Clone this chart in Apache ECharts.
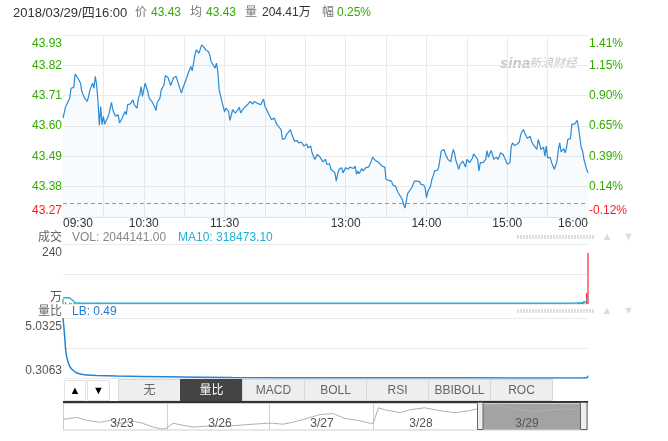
<!DOCTYPE html>
<html><head><meta charset="utf-8">
<script src="https://cdn.jsdelivr.net/npm/echarts/dist/echarts.min.js"></script>
<style>html,body{margin:0;padding:0;background:#fff;}#c{width:668px;height:441px;}</style>
</head><body><div id="c"></div>
<script>
// ---------- data ----------
const prevClose = 43.32;
const xTickMinutes = [0, 60, 120, 210, 270, 330, 390];
const xTickLabels = ['09:30', '10:30', '11:30', '13:00', '14:00', '15:00', '16:00'];
const priceTickLabels = ['43.27', '43.38', '43.49', '43.60', '43.71', '43.82', '43.93']; // bottom -> top
const pctTickLabels = ['-0.12%', '0.14%', '0.39%', '0.65%', '0.90%', '1.15%', '1.41%'];
const volTickLabels = ['万', '', '240'];
const lbTickLabels = ['0.3063', '', '5.0325'];

// minutes after 09:30
const minutes = [
 0,2,5,6,8,9,11,12,13,14,
 16,18,19,20,21,22,23,24,25,26,
 27,28,29,30,31,32,33,34,36,37,
 38,39,41,42,44,45,46,47,48,50,
 52,53,55,56,57,58,59,61,63,64,
 66,68,69,70,72,73,75,76,78,79,
 80,82,84,85,86,88,89,91,92,93,
 94,95,96,98,99,100,101,103,104,105,
 106,108,109,110,111,113,114,115,116,117,
 118,120,121,123,124,126,127,128,130,131,
 132,134,135,137,138,139,141,142,144,145,
 147,148,149,150,152,153,154,155,157,158,
 159,160,162,163,165,166,167,169,170,171,
 172,174,175,177,179,180,181,182,184,185,
 186,187,189,190,191,192,193,195,196,198,
 199,200,202,203,204,205,207,208,209,210,
 212,213,214,216,217,218,219,220,222,223,
 224,225,227,228,229,230,232,233,234,235,
 237,238,239,240,242,244,245,247,248,249,
 250,252,253,254,255,256,257,259,260,261,
 263,264,265,266,268,269,270,271,273,274,
 275,276,278,279,280,281,283,284,285,286,
 288,289,290,291,292,294,295,296,297,299,
 300,301,302,304,305,306,308,309,310,312,
 313,314,315,316,318,319,320,322,323,324,
 325,327,328,329,330,332,333,334,335,337,
 338,339,340,342,343,344,345,347,348,349,
 350,352,353,354,355,357,358,359,360,362,
 363,364,365,367,368,369,370,372,373,374,
 375,377,378,379,380,382,383,384,385,386,
 387,389,390
];
const prices = [
 43.629,43.671,43.701,43.737,43.740,43.788,43.774,43.776,43.755,43.725,
 43.701,43.689,43.707,43.731,43.725,43.755,43.737,43.780,43.749,43.689,
 43.603,43.671,43.605,43.635,43.607,43.605,43.629,43.641,43.686,43.659,
 43.653,43.635,43.641,43.611,43.629,43.635,43.653,43.641,43.677,43.680,
 43.695,43.677,43.665,43.701,43.713,43.743,43.707,43.755,43.725,43.701,
 43.689,43.671,43.656,43.686,43.701,43.731,43.749,43.783,43.776,43.774,
 43.747,43.774,43.780,43.774,43.749,43.719,43.737,43.762,43.755,43.792,
 43.795,43.816,43.800,43.858,43.876,43.882,43.864,43.894,43.890,43.884,
 43.876,43.870,43.858,43.834,43.836,43.810,43.828,43.798,43.731,43.725,
 43.689,43.651,43.665,43.653,43.620,43.659,43.665,43.647,43.659,43.668,
 43.647,43.663,43.659,43.677,43.671,43.689,43.680,43.689,43.683,43.689,
 43.677,43.689,43.698,43.671,43.653,43.641,43.639,43.623,43.629,43.615,
 43.605,43.607,43.587,43.551,43.555,43.569,43.563,43.587,43.569,43.569,
 43.545,43.547,43.539,43.542,43.527,43.533,43.535,43.521,43.527,43.503,
 43.491,43.479,43.497,43.499,43.487,43.485,43.470,43.479,43.461,43.463,
 43.443,43.437,43.430,43.400,43.425,43.443,43.449,43.430,43.437,43.449,
 43.443,43.451,43.446,43.446,43.455,43.425,43.437,43.427,43.446,43.437,
 43.443,43.449,43.451,43.461,43.473,43.487,43.475,43.470,43.470,43.473,
 43.455,43.461,43.451,43.406,43.403,43.400,43.386,43.382,43.370,43.358,
 43.355,43.334,43.316,43.302,43.328,43.355,43.362,43.376,43.382,43.400,
 43.400,43.394,43.398,43.388,43.386,43.376,43.340,43.362,43.382,43.406,
 43.419,43.437,43.439,43.449,43.479,43.509,43.515,43.499,43.503,43.479,
 43.470,43.497,43.515,43.497,43.473,43.443,43.461,43.455,43.473,43.451,
 43.479,43.482,43.467,43.482,43.499,43.503,43.479,43.437,43.467,43.467,
 43.473,43.479,43.511,43.487,43.511,43.497,43.479,43.487,43.479,43.487,
 43.503,43.497,43.485,43.475,43.461,43.467,43.527,43.539,43.530,43.533,
 43.527,43.542,43.569,43.587,43.575,43.569,43.555,43.563,43.545,43.535,
 43.533,43.515,43.551,43.535,43.515,43.523,43.491,43.527,43.485,43.485,
 43.467,43.455,43.443,43.473,43.515,43.539,43.506,43.518,43.503,43.521,
 43.551,43.555,43.607,43.603,43.607,43.620,43.593,43.557,43.521,43.509,
 43.479,43.443,43.430
];
// volume, unit 万
const volumes = [
 20,8,5,4,3,4,3,5,4,3,
 3,4,2,3,5,3,2,4,3,6,
 5,3,4,2,3,2,3,4,3,2,
 3,2,4,3,2,3,2,4,3,2,
 3,2,2,4,3,2,3,4,2,3,
 2,3,4,2,3,2,3,4,2,3,
 3,2,2,3,2,4,2,3,2,3,
 2,4,3,3,4,2,3,4,2,2,
 3,2,2,3,2,3,2,2,5,3,
 3,4,2,2,3,2,2,3,2,2,
 2,3,2,2,3,2,2,3,2,2,
 2,3,2,3,2,3,2,2,3,2,
 3,2,3,4,2,2,3,2,2,3,
 2,3,2,2,3,2,2,3,2,3,
 3,2,3,2,2,3,2,2,3,2,
 3,2,2,4,3,2,2,3,2,2,
 2,3,2,2,3,3,2,2,3,2,
 2,3,2,2,3,2,2,2,3,2,
 2,3,2,4,3,2,3,2,3,3,
 2,3,4,4,3,3,2,3,2,3,
 2,3,2,2,3,2,4,3,2,3,
 3,2,2,3,3,4,2,3,2,3,
 2,3,2,2,3,3,2,2,3,2,
 3,2,2,3,2,2,3,4,3,2,
 2,2,3,2,3,2,2,3,2,2,
 3,2,2,3,2,3,4,3,2,2,
 2,3,3,3,2,2,3,2,3,2,
 2,3,3,2,3,2,3,3,3,2,
 3,3,3,3,4,3,3,3,2,3,
 4,3,5,4,3,5,6,5,7,8,
 12,44,204.41
];
const maMinutes = [0,3,5,6,7,8,9,10,14,20,60,120,200,300,360,375,380,384,386,387,389,390];
const maValues  = [25,25,24,22,16,9,5,3.5,3,3,3,2.8,2.7,2.7,2.8,3.2,3.8,4.6,5.5,6.5,10.5,31.85];
const lbMinutes = [0,1,2,3,4,5,7,10,14,18,25,40,77,126,200,300,370,386,389,390];
const lbValues  = [5.0325,3.9,2.5,1.85,1.5,1.22,0.95,0.72,0.6,0.54,0.5,0.46,0.41,0.34,0.33,0.32,0.31,0.3063,0.32,0.49];
// five-day navigator line (3/23 .. 3/29)
const navDays = ['3/23', '3/26', '3/27', '3/28', '3/29'];
const navX = [0,13,23,35,45,54,67,76,86,95, 99,105,114,124,137,156,169,181,195, 200,210,219,233,245,258,269,281,293, 296,301,307,322,331,345,360,374,388,395, 401,412,422,436,450,465,479,491];
const navV = [41.65,41.95,41.50,41.20,41.50,41.05,41.35,41.05,40.45,40.15, 40.30,41.05,40.75,40.45,40.60,40.60,40.75,40.90,41.05, 41.05,40.90,41.20,41.80,42.40,42.55,41.80,41.50,41.05, 41.05,43.45,43.15,42.70,43.15,43.45,43.00,42.70,43.00,43.30, 43.75,43.90,43.60,43.15,42.85,43.15,43.30,43.15];
const header = [
  {t:'2018/03/29/四16:00', c:'#333', x:13, s:13},
  {t:'价', c:'#777', x:135}, {t:'43.43', c:'g', x:151},
  {t:'均', c:'#777', x:190}, {t:'43.43', c:'g', x:206},
  {t:'量', c:'#777', x:245}, {t:'204.41万', c:'#333', x:262},
  {t:'幅', c:'#777', x:322}, {t:'0.25%', c:'g', x:337}
];
const tabNames = ['无', '量比', 'MACD', 'BOLL', 'RSI', 'BBIBOLL', 'ROC'];
const selectedTab = 1;

// ---------- chart ----------
const FONT = 'Arial, "Liberation Sans", "Noto Sans CJK SC", sans-serif';
const GREEN = '#33aa00', RED = '#ff1a1a', GRID = '#ebebeb';

const priceData = minutes.map((m, i) => [m, prices[i]]);
const volData = minutes.map((m, i) => {
  const prev = i === 0 ? prevClose : prices[i - 1];
  const c = prices[i] > prev ? '#22a322' : (prices[i] < prev ? '#ff0000' : '#000000');
  return {value: [m, volumes[i]], itemStyle: {color: c}};
});
const maData = maMinutes.map((m, i) => [m, maValues[i]]);
const lbData = lbMinutes.map((m, i) => [m, lbValues[i]]);
const navData = navX.map((x, i) => [x, navV[i]]);

function rich(cTop, cMid, cBot, padTop, padBot) {
  return {
    t: {color: cTop, fontSize: 12, fontFamily: FONT, padding: [padTop, 0, 0, 0]},
    m: {color: cMid, fontSize: 12, fontFamily: FONT},
    b: {color: cBot, fontSize: 12, fontFamily: FONT, padding: [0, 0, padBot, 0]}
  };
}
function edgeFormatter(labels) {
  return function (v, i) {
    const s = labels[i];
    if (s === undefined || s === '') return '';
    if (i === labels.length - 1) return '{t|' + s + '}';
    if (i === 0) return '{b|' + s + '}';
    return '{m|' + s + '}';
  };
}

const hiddenX = (gi, max) => ({gridIndex: gi, type: 'value', min: 0, max: max, show: false});

const g = [];
header.forEach(h => g.push({type: 'text', x: h.x, y: 13, style: {text: h.t, fill: h.c === 'g' ? GREEN : h.c, font: (h.s || 12) + 'px ' + FONT, textAlign: 'left', textVerticalAlign: 'middle', align: 'left', verticalAlign: 'middle'}}));
// watermark
g.push({type: 'text', x: 500, y: 64, style: {text: 'sina', fill: '#c4c4c4', font: 'italic bold 15px ' + FONT, textVerticalAlign: 'middle', verticalAlign: 'middle'}});
g.push({type: 'text', x: 529, y: 64, style: {text: '新浪财经', fill: '#c8c8c8', font: 'italic 12px ' + FONT, textVerticalAlign: 'middle', verticalAlign: 'middle'}});
function txt(x, y, t, fill, align) {
  g.push({type: 'text', x: x, y: y, z: 50, style: {text: t, fill: fill, font: '12px ' + FONT, textAlign: align || 'left', align: align || 'left', textVerticalAlign: 'middle', verticalAlign: 'middle'}});
}
txt(62, 238, '成交', '#666', 'right');
txt(72, 238, 'VOL: 2044141.00', '#888');
txt(178, 238, 'MA10: 318473.10', '#1cb2d6');
txt(62, 312, '量比', '#666', 'right');
txt(72, 312, 'LB: 0.49', '#1f7bd3');
[237, 311].forEach(y => {
  g.push({type: 'line', shape: {x1: 517, y1: y, x2: 594, y2: y}, style: {stroke: '#dedede', lineWidth: 4, lineDash: [2, 1]}});
  g.push({type: 'text', x: 607, y: y, style: {text: '▲', fill: '#dcdcdc', font: '11px ' + FONT, textAlign: 'center', align: 'center', textVerticalAlign: 'middle', verticalAlign: 'middle'}});
  g.push({type: 'text', x: 628.5, y: y, style: {text: '▼', fill: '#dcdcdc', font: '11px ' + FONT, textAlign: 'center', align: 'center', textVerticalAlign: 'middle', verticalAlign: 'middle'}});
});
// buttons + tabs
g.push({type: 'rect', shape: {x: 64.5, y: 380.5, width: 21, height: 20}, style: {fill: '#fff', stroke: '#e2e2e2'}});
g.push({type: 'rect', shape: {x: 87.5, y: 380.5, width: 22, height: 20}, style: {fill: '#fff', stroke: '#e2e2e2'}});
g.push({type: 'text', x: 75, y: 390.5, style: {text: '▲', fill: '#000', font: '11px ' + FONT, textAlign: 'center', align: 'center', textVerticalAlign: 'middle', verticalAlign: 'middle'}});
g.push({type: 'text', x: 98.5, y: 390.5, style: {text: '▼', fill: '#000', font: '11px ' + FONT, textAlign: 'center', align: 'center', textVerticalAlign: 'middle', verticalAlign: 'middle'}});
const tabX0 = 118.5, tabW = 62;
tabNames.forEach((n, i) => {
  const sel = i === selectedTab;
  g.push({type: 'rect', shape: {x: tabX0 + i * tabW, y: 379.5, width: tabW, height: 21}, style: {fill: sel ? '#444' : '#eeeeee', stroke: sel ? '#444' : '#d8d8d8'}});
  g.push({type: 'text', x: tabX0 + i * tabW + tabW / 2, y: 390.5, style: {text: n, fill: sel ? '#fff' : '#666', font: '12px ' + FONT, textAlign: 'center', align: 'center', textVerticalAlign: 'middle', verticalAlign: 'middle'}});
});
g.push({type: 'rect', shape: {x: 63, y: 401, width: 525, height: 2.5}, style: {fill: '#333'}});
// navigator frame
g.push({type: 'rect', shape: {x: 480, y: 403, width: 101, height: 27}, z: -1, style: {fill: '#a3a3a3'}});
g.push({type: 'rect', shape: {x: 63.5, y: 403.5, width: 524, height: 26.5}, style: {fill: 'none', stroke: '#d0d0d0'}});
[167.5, 269.5, 373.5].forEach(x => g.push({type: 'line', shape: {x1: x, y1: 403, x2: x, y2: 430}, style: {stroke: '#d0d0d0', lineWidth: 1}}));
g.push({type: 'rect', shape: {x: 477.5, y: 402.5, width: 5.5, height: 27}, z: 60, style: {fill: '#eeeeee', stroke: '#666'}});
g.push({type: 'rect', shape: {x: 580.5, y: 402.5, width: 6.5, height: 27}, z: 60, style: {fill: '#eeeeee', stroke: '#666'}});
const navLabelX = [122, 220, 322, 421, 527];
navDays.forEach((d, i) => g.push({type: 'text', x: navLabelX[i], y: 423.5, z: 60, style: {text: d, fill: '#555', font: '12px ' + FONT, textAlign: 'center', align: 'center', textVerticalAlign: 'middle', verticalAlign: 'middle'}}));

const option = {
  animation: false,
  backgroundColor: '#fff',
  textStyle: {fontFamily: FONT},
  grid: [
    {left: 63, top: 35, width: 525, height: 182},
    {left: 63, top: 244, width: 525, height: 60},
    {left: 63, top: 318, width: 525, height: 60},
    {left: 63, top: 403, width: 524, height: 27}
  ],
  xAxis: [
    {gridIndex: 0, type: 'value', min: 0, max: 390, interval: 30,
     axisLine: {show: true, lineStyle: {color: '#e3e3e3'}}, axisTick: {show: false},
     splitLine: {show: true, showMinLine: false, showMaxLine: false, lineStyle: {color: GRID}},
     axisLabel: {margin: 1, color: '#333', fontSize: 12,
       formatter: function (v) {
         const k = xTickMinutes.indexOf(v);
         if (k < 0) return '';
         if (k === 0) return '{l|' + xTickLabels[k] + '}';
         if (k === xTickLabels.length - 1) return '{r|' + xTickLabels[k] + '}';
         return '{c|' + xTickLabels[k] + '}';
       },
       rich: {
         l: {color: '#333', fontSize: 12, fontFamily: FONT, padding: [0, 0, 0, 30]},
         r: {color: '#333', fontSize: 12, fontFamily: FONT, padding: [0, 30, 0, 0]},
         c: {color: '#333', fontSize: 12, fontFamily: FONT}
       }}},
    hiddenX(1, 390),
    hiddenX(2, 390),
    hiddenX(3, 500)
  ],
  yAxis: [
    {gridIndex: 0, type: 'value', min: 43.27, max: 43.93, interval: 0.11, position: 'left',
     axisLine: {show: false}, axisTick: {show: false},
     splitLine: {show: true, lineStyle: {color: GRID}},
     axisLabel: {margin: 1, formatter: edgeFormatter(priceTickLabels), rich: rich(GREEN, GREEN, RED, 18, 12)}},
    {gridIndex: 0, type: 'value', min: 43.27, max: 43.93, interval: 0.11, position: 'right',
     axisLine: {show: false}, axisTick: {show: false}, splitLine: {show: false},
     axisLabel: {margin: 1, formatter: edgeFormatter(pctTickLabels), rich: rich(GREEN, GREEN, RED, 18, 12)}},
    {gridIndex: 1, type: 'value', min: 0, max: 240, interval: 120,
     axisLine: {show: false}, axisTick: {show: false},
     splitLine: {show: true, lineStyle: {color: GRID}},
     axisLabel: {margin: 1, formatter: edgeFormatter(volTickLabels), rich: rich('#555', '#555', '#555', 18, 12)}},
    {gridIndex: 2, type: 'value', min: 0.3063, max: 5.0325, interval: 2.3631,
     axisLine: {show: false}, axisTick: {show: false},
     splitLine: {show: true, lineStyle: {color: GRID}},
     axisLabel: {margin: 1, formatter: edgeFormatter(lbTickLabels), rich: rich('#555', '#555', '#555', 18, 14)}},
    {gridIndex: 3, type: 'value', min: 40, max: 44.2, show: false}
  ],
  series: [
    {type: 'line', xAxisIndex: 0, yAxisIndex: 0, data: priceData, symbol: 'none',
     lineStyle: {color: '#2a8ad4', width: 1.2},
     areaStyle: {color: 'rgba(40,120,220,0.045)'},
     markLine: {silent: true, symbol: ['none', 'none'], label: {show: false},
       lineStyle: {color: '#999', type: [4, 3], width: 1},
       data: [{yAxis: prevClose}]}},
    {type: 'bar', xAxisIndex: 1, yAxisIndex: 2, data: volData, barWidth: 1},
    {type: 'line', xAxisIndex: 1, yAxisIndex: 2, data: maData, symbol: 'none', lineStyle: {color: '#26b6d8', width: 1.5}},
    {type: 'line', xAxisIndex: 2, yAxisIndex: 3, data: lbData, symbol: 'none', smooth: 0.3, lineStyle: {color: '#2384d6', width: 1.5}},
    {type: 'line', xAxisIndex: 3, yAxisIndex: 4, data: navData, symbol: 'none', lineStyle: {color: '#b0b0b0', width: 1}}
  ],
  graphic: {elements: g}
};
const chart = echarts.init(document.getElementById('c'));
chart.setOption(option);
</script>
</body></html>
